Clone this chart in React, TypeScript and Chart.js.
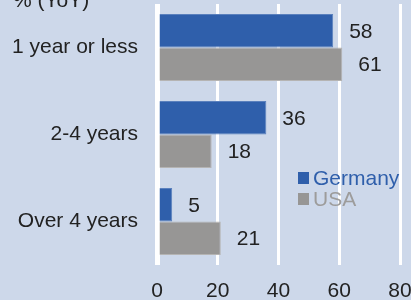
import React, { useEffect, useRef } from "react";
import { Chart, registerables } from "chart.js";
Chart.register(...registerables);

const categories = ["1 year or less", "2-4 years", "Over 4 years"];
const germany = [58, 36, 5];
const usa = [61, 18, 21];
const seriesNames = ["Germany", "USA"];
const xMin = 0;
const xMax = 80;
const xStep = 20;
const titleText = "% (YoY)";

const FONT = "'Liberation Sans', Arial, sans-serif";
const BG = "#cdd8ea";
const BLUE = "#2f5fab";
const GREY = "#979695";
const TEXT = "#222222";

export default function App() {
  const ref = useRef<HTMLCanvasElement | null>(null);
  useEffect(() => {
    if (!ref.current) return;
    const labelPlugin = {
      id: "labels",
      afterDatasetsDraw(chart: any) {
        const ctx = chart.ctx;
        ctx.save();
        ctx.font = `21px ${FONT}`;
        ctx.fillStyle = TEXT;
        ctx.textBaseline = "middle";
        ctx.textAlign = "left";
        chart.data.datasets.forEach((ds: any, i: number) => {
          const meta = chart.getDatasetMeta(i);
          meta.data.forEach((el: any, j: number) => {
            ctx.fillText(String(ds.data[j]), el.x + 16, el.y + 1);
          });
        });
        // legend
        const items = [
          { name: seriesNames[0], color: BLUE, y: 178 },
          { name: seriesNames[1], color: GREY, y: 199 },
        ];
        items.forEach((it) => {
          ctx.fillStyle = it.color;
          ctx.fillRect(298, it.y - 6, 11, 12);
          ctx.fillStyle = it.color === GREY ? "#9d9c9b" : it.color;
          ctx.textBaseline = "alphabetic";
          ctx.fillText(it.name, 313, it.y + 7);
        });
        // clipped title
        ctx.fillStyle = TEXT;
        ctx.textBaseline = "alphabetic";
        ctx.fillText(titleText, 13, 7);
        ctx.restore();
      },
    };
    const chart = new Chart(ref.current, {
      type: "bar",
      data: {
        labels: categories,
        datasets: [
          {
            label: seriesNames[0],
            data: germany,
            backgroundColor: BLUE,
            borderColor: "#5a80bd",
            borderWidth: 1,
            categoryPercentage: 0.77,
            barPercentage: 1.0,
          },
          {
            label: seriesNames[1],
            data: usa,
            backgroundColor: GREY,
            borderColor: "#b5b4b3",
            borderWidth: 1,
            categoryPercentage: 0.77,
            barPercentage: 1.0,
          },
        ],
      },
      options: {
        indexAxis: "y",
        responsive: false,
        animation: false,
        layout: { autoPadding: false, padding: { left: 11, top: 4, right: 11, bottom: 0 } },
        plugins: {
          legend: { display: false },
          tooltip: { enabled: false },
          title: { display: false },
        },
        scales: {
          x: {
            min: xMin,
            max: xMax,
            afterFit: (s: any) => {
              s.paddingTop = 0;
              s.paddingBottom = 0;
              s.paddingLeft = 0;
              s.paddingRight = 0;
              s.height = 39;
            },
            ticks: {
              stepSize: xStep,
              color: TEXT,
              font: { family: FONT, size: 21 },
              padding: 14,
            },
            grid: {
              color: "#ffffff",
              lineWidth: (c: any) => (c.index === 0 ? 5 : 3),
              drawTicks: false,
            },
            border: { display: false },
          },
          y: {
            afterFit: (s: any) => {
              s.paddingTop = 0;
              s.paddingBottom = 0;
              s.paddingLeft = 0;
              s.paddingRight = 0;
              s.width = 146;
            },
            ticks: {
              color: TEXT,
              font: { family: FONT, size: 21 },
              padding: 19,
            },
            grid: { display: false, drawTicks: false },
            border: { display: false },
          },
        },
      },
      plugins: [labelPlugin],
    } as any);
    return () => chart.destroy();
  }, []);
  return (
    <div
      style={{
        position: "fixed",
        left: 0,
        top: 0,
        width: 411,
        height: 300,
        overflow: "hidden",
        background: BG,
      }}
    >
      <canvas ref={ref} width={411} height={304} style={{ display: "block" }} />
    </div>
  );
}
